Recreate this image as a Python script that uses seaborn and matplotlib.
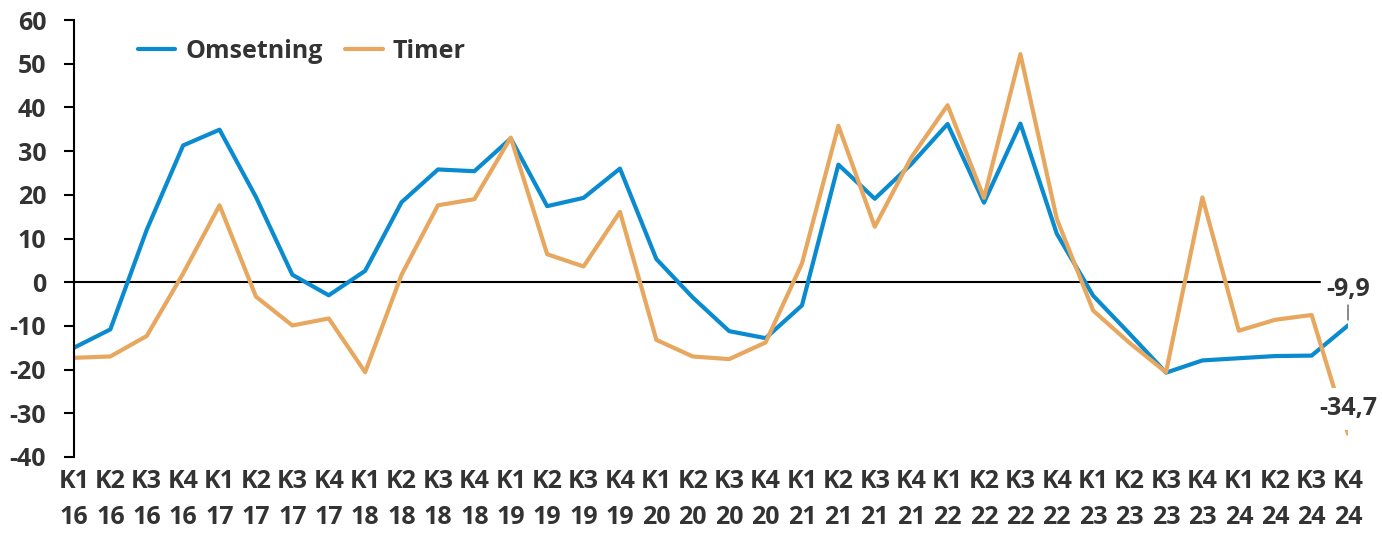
import pandas as pd
import matplotlib.pyplot as plt
import seaborn as sns

# Quarterly change, percent
kvartal = ['K1', 'K2', 'K3', 'K4']
aar = ['16', '17', '18', '19', '20', '21', '22', '23', '24']
labels = [f'{k}\n{a}' for a in aar for k in kvartal]

omsetning = [-15.0, -10.8, 12.0, 31.3, 34.9, 19.5, 1.7, -3.0, 2.6, 18.3, 25.8, 25.4,
             32.9, 17.4, 19.3, 26.0, 5.3, -3.5, -11.2, -12.8, -5.3, 26.9, 19.1, 27.0,
             36.2, 18.2, 36.3, 11.1, -3.1, -11.8, -20.7, -17.9, -17.4, -16.9, -16.8, -9.9]
timer = [-17.3, -17.0, -12.3, 2.0, 17.6, -3.3, -9.9, -8.3, -20.6, 1.7, 17.6, 19.0,
         33.1, 6.4, 3.6, 16.1, -13.2, -17.0, -17.6, -13.8, 4.3, 35.8, 12.7, 28.5,
         40.5, 19.3, 52.2, 14.5, -6.5, -13.9, -20.6, 19.4, -11.1, -8.6, -7.5, -34.7]

df = pd.DataFrame({
    'pos': list(range(len(labels))) * 2,
    'verdi': omsetning + timer,
    'serie': ['Omsetning'] * len(omsetning) + ['Timer'] * len(timer),
})

sns.set_style('white')
plt.rcParams['font.family'] = ['Open Sans', 'DejaVu Sans']
plt.rcParams['font.weight'] = 'bold'
plt.rcParams['axes.unicode_minus'] = False

tekst = '#333333'
farger = {'Omsetning': '#0A8BD0', 'Timer': '#E7A75E'}

fig, ax = plt.subplots(figsize=(13.82, 5.35), dpi=100)
fig.subplots_adjust(left=0.0535, right=0.9754, top=0.9626, bottom=0.1458)

sns.lineplot(data=df, x='pos', y='verdi', hue='serie', palette=farger,
             linewidth=3, ax=ax)

ax.set_xlim(0, len(labels) - 1)
ax.set_ylim(-40, 60)
ax.set_yticks(range(-40, 61, 10))
ax.set_xticks(range(len(labels)))
ax.set_xticklabels(labels, linespacing=1.55)
ax.set_xlabel('')
ax.set_ylabel('')

for s in ['top', 'right', 'bottom']:
    ax.spines[s].set_visible(False)
ax.spines['left'].set_color('black')
ax.spines['left'].set_linewidth(1.5)
ax.axhline(0, color='black', lw=1.5, xmax=0.978, zorder=1)

ax.tick_params(axis='y', left=True, length=7, width=1.5, color='black',
               pad=13, labelsize=18, labelcolor=tekst)
ax.tick_params(axis='x', length=0, pad=9, labelsize=18, labelcolor=tekst)

ax.legend(loc='center left', bbox_to_anchor=(0.05, 0.929), ncol=2, frameon=False,
          fontsize=18, labelcolor=tekst, handlelength=1.5, handletextpad=0.4,
          columnspacing=0.9, borderpad=0, borderaxespad=0)

siste = len(labels) - 1
ax.annotate(f'{omsetning[-1]:.1f}'.replace('.', ','), xy=(siste, omsetning[-1]),
            xytext=(0, 17), textcoords='offset points', ha='center', va='bottom',
            fontsize=18, color=tekst,
            arrowprops=dict(arrowstyle='-', color='#777777', lw=1.2,
                            shrinkA=0, shrinkB=4))
ax.annotate(f'{timer[-1]:.1f}'.replace('.', ','), xy=(siste, timer[-1]),
            xytext=(0, 18), textcoords='offset points', ha='center', va='center',
            fontsize=18, color=tekst, annotation_clip=False,
            bbox=dict(fc='white', ec='none', pad=6))

fig.savefig('out.png', dpi=100)
